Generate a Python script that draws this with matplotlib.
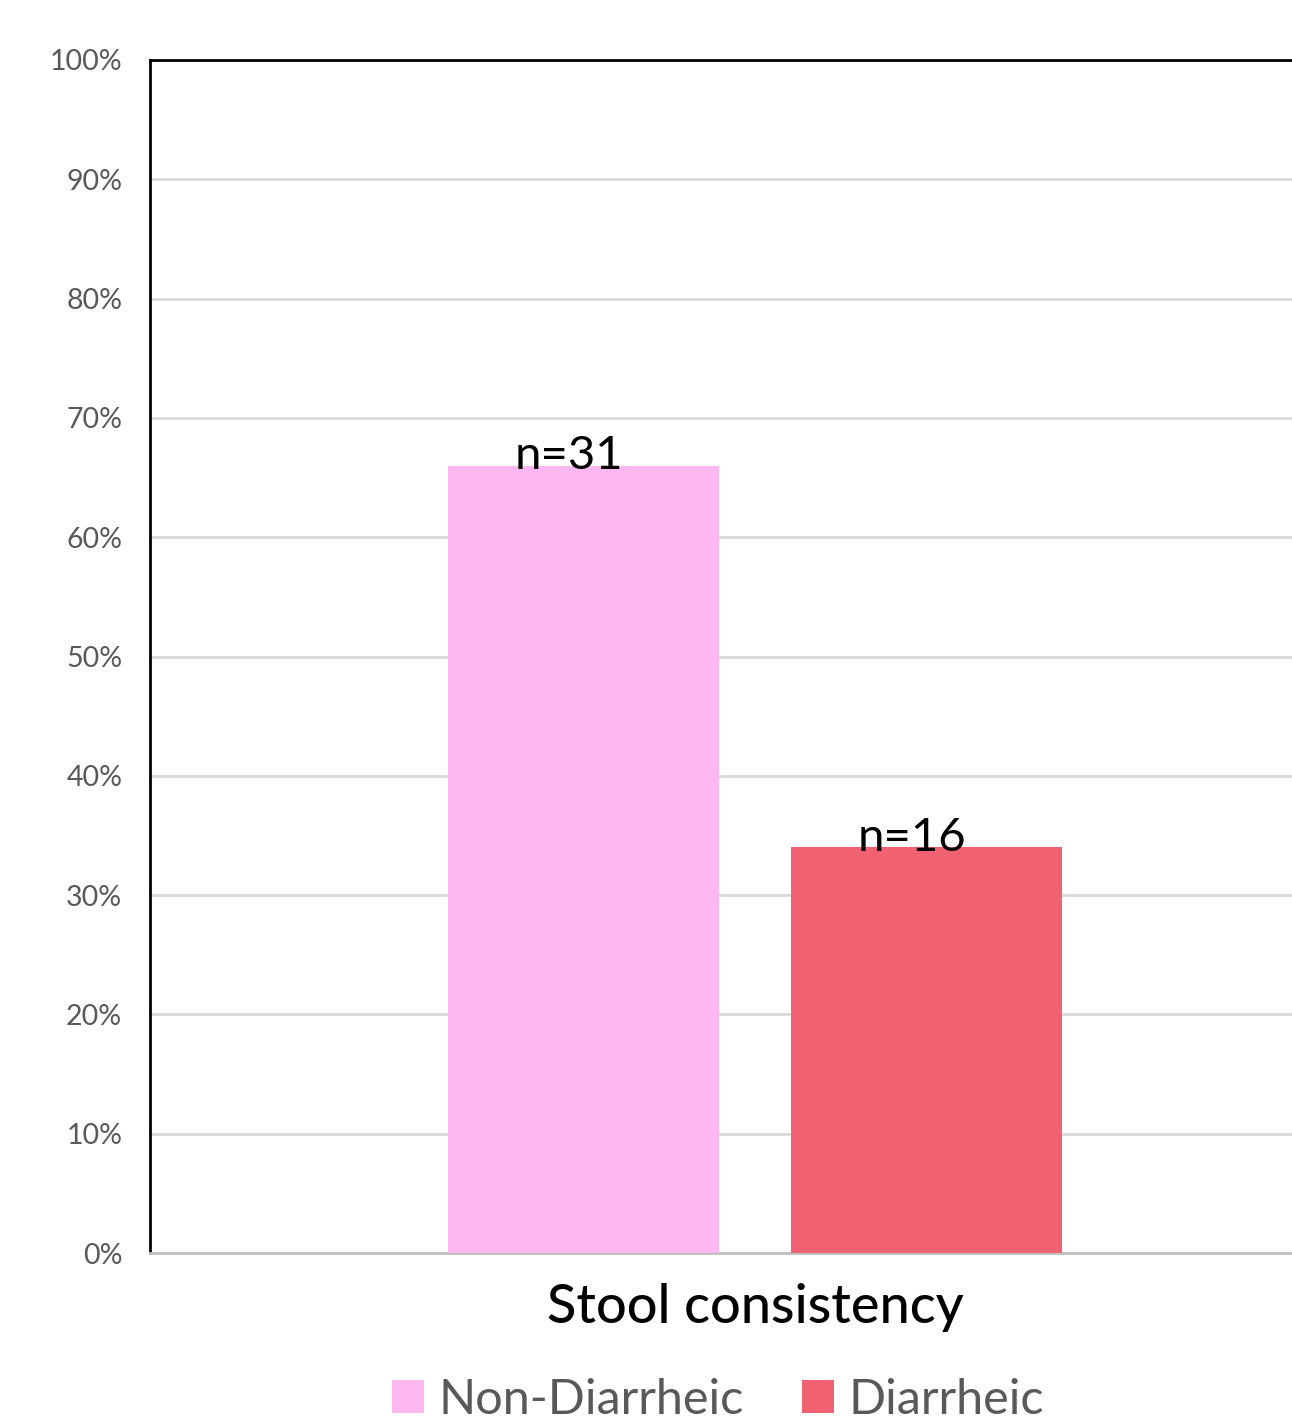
import matplotlib.pyplot as plt
from matplotlib.patches import Patch

# data
category = 'Stool consistency'
series = ['Non-Diarrheic', 'Diarrheic']
percent = [66, 34]
counts = ['n=31', 'n=16']
colors = ['#FDB8F2', '#F06272']
yticks = list(range(0, 101, 10))

fig = plt.figure(figsize=(12.92, 14.24), dpi=100)
ax = fig.add_axes([150/1292, 171/1424, 1210/1292, 1193/1424])

width = 271/1210
offset = 343/2/1210
pos = [-offset, offset]

for p, v, c, lab, s in zip(pos, percent, colors, counts, series):
    ax.bar(p, v, width=width, color=c, zorder=3, label=s)
    ax.text(p - 0.012, v - 0.3, lab, ha='center', va='baseline',
            fontsize=34, family='Lato', color='black', zorder=4)

ax.set_xlim(-0.5, 0.5)
ax.set_ylim(0, 100)
ax.set_yticks(yticks)
ax.set_yticklabels([f'{t}%' for t in yticks], fontsize=20.5, color='#595959', family='Lato')
ax.set_xticks([])
ax.tick_params(axis='y', length=0, pad=20)
ax.grid(axis='y', color='#d9d9d9', linewidth=2, zorder=0)

for side in ['top', 'left']:
    ax.spines[side].set_color('black')
    ax.spines[side].set_linewidth(2)
ax.spines['right'].set_visible(False)
ax.spines['bottom'].set_color('#bfbfbf')
ax.spines['bottom'].set_linewidth(2)
ax.spines['top'].set_zorder(5)

fig.text(755/1292, 1-1308/1424, category, ha='center', va='center',
         fontsize=39, family='Lato', weight='medium', color='black')

handles = [Patch(facecolor=c, edgecolor='none') for c in colors]
fig.legend(handles, series, loc='lower center', bbox_to_anchor=(718/1292, 0.0),
           ncol=2, frameon=False, handlelength=0.65, handleheight=0.65,
           handletextpad=0.3, columnspacing=1.2, prop={'family': 'Lato', 'size': 35},
           labelcolor='#595959', borderaxespad=0.0, borderpad=0.05)

fig.savefig('out.png', dpi=100)
